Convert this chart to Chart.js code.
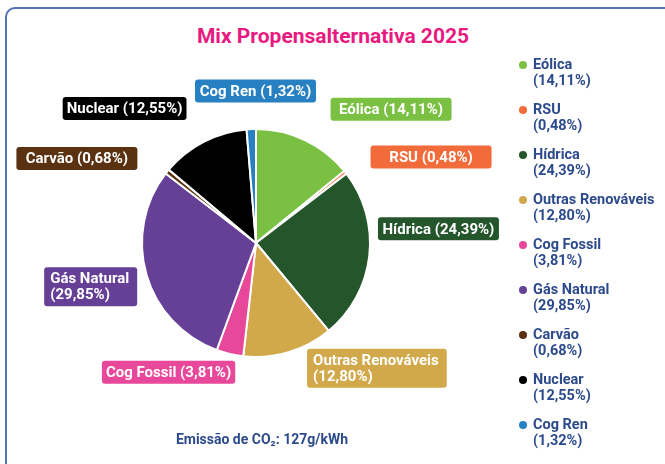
<!DOCTYPE html>
<html>
<head>
<meta charset="utf-8">
<script src="https://cdn.jsdelivr.net/npm/chart.js@4.4.1/dist/chart.umd.min.js"></script>
<style>
  body { margin: 0; background: #fff; font-family: Roboto, sans-serif; }
  #card { position: absolute; left: 5px; top: 7px; width: 700px; height: 500px;
          border: 2px solid #5571b0; border-radius: 10px; box-sizing: border-box; }
  #title { position: absolute; left: 5px; width: 656px; top: 24px; text-align: center;
           color: #e8197f; font-weight: 700; font-size: 21px; }
  #wrap { position: absolute; left: 0; top: 0; width: 665px; height: 464px; }
  #legend { position: absolute; left: 517px; top: 57px; margin: 0; padding: 0; list-style: none; }
  #legend li { height: 45px; position: relative; padding-left: 16px; color: #2c4a8c;
               font-weight: 700; font-size: 14.5px; line-height: 16px; white-space: nowrap; }
  #legend .dot { position: absolute; left: 2px; top: 4px; width: 8px; height: 8px; border-radius: 50%; }
  #co2 { position: absolute; left: 132px; width: 260px; top: 431px; text-align: center;
         color: #2c4a8c; font-weight: 700; font-size: 14px; }
</style>
</head>
<body>
<div id="card"></div>
<div id="title">Mix Propensalternativa 2025</div>
<div id="wrap"><canvas id="myChart"></canvas></div>
<ul id="legend"></ul>
<div id="co2">Emissão de CO₂: 127g/kWh</div>
<script>
var sources = ["Eólica", "RSU", "Hídrica", "Outras Renováveis", "Cog Fossil",
               "Gás Natural", "Carvão", "Nuclear", "Cog Ren"];
var shares = [14.11, 0.48, 24.39, 12.80, 3.81, 29.85, 0.68, 12.55, 1.32];
var colors = ["#7ac143", "#f26b3b", "#25562b", "#d1a84a", "#e8489a",
              "#663f97", "#5a3211", "#000000", "#2680c2"];

function pct(v) {
  return "(" + v.toFixed(2).replace(".", ",") + "%)";
}

// legend on the right
var legend = document.getElementById("legend");
for (var i = 0; i < sources.length; i++) {
  var li = document.createElement("li");
  li.innerHTML = '<span class="dot" style="background:' + colors[i] + '"></span>' +
    sources[i] + "<br>" + pct(shares[i]);
  legend.appendChild(li);
}

// coloured boxes around the pie
var boxLabels = {
  id: "boxLabels",
  afterDatasetsDraw(chart, args, opts) {
    var ctx = chart.ctx;
    var meta = chart.getDatasetMeta(0);
    ctx.save();
    ctx.font = "700 15px Roboto, sans-serif";
    meta.data.forEach((arc, i) => {
      var mid = (arc.startAngle + arc.endAngle) / 2;
      var p = opts.place[i];
      var a = mid + p[0] * Math.PI / 180;
      var cx = arc.x + Math.cos(a) * p[1];
      var cy = arc.y + Math.sin(a) * p[1];
      var lines = opts.twoLine[i]
        ? [sources[i], pct(shares[i])]
        : [sources[i] + " " + pct(shares[i])];
      var tw = Math.max.apply(null, lines.map((l) => ctx.measureText(l).width));
      var w, h;
      if (lines.length == 1) {
        w = Math.max(121, tw + 8);
        h = 23;
      } else {
        w = tw + 14;
        h = 39;
      }
      ctx.fillStyle = colors[i];
      ctx.beginPath();
      ctx.roundRect(cx - w / 2, cy - h / 2, w, h, 3);
      ctx.fill();
      ctx.fillStyle = "#fff";
      ctx.textBaseline = "middle";
      if (lines.length == 1) {
        ctx.textAlign = "center";
        ctx.fillText(lines[0], cx, cy + 1);
      } else {
        ctx.textAlign = "left";
        ctx.fillText(lines[0], cx - w / 2 + 6, cy - 8 + 1);
        ctx.fillText(lines[1], cx - w / 2 + 6, cy + 8 + 1);
      }
    });
    ctx.restore();
  },
};

var ctx = document.getElementById("myChart");
var myChart = new Chart(ctx, {
  type: "pie",
  data: {
    labels: sources,
    datasets: [
      {
        data: shares,
        backgroundColor: colors,
        borderColor: "#ffffff",
        borderWidth: 2,
        radius: 114,
      },
    ],
  },
  options: {
    responsive: true,
    maintainAspectRatio: false,
    animation: false,
    layout: { padding: { left: 0, right: 153, top: 22, bottom: 0 } },
    plugins: {
      legend: { display: false },
      tooltip: { enabled: false },
      boxLabels: {
        // [angle shift from slice middle (deg), distance from centre (px)]
        place: [[19.9, 190], [12.2, 195], [-10.9, 183], [-27.4, 174], [20.8, 156],
                [1.3, 171], [-13.6, 198], [-17, 188], [2.2, 152]],
        twoLine: [false, false, false, true, false, true, false, false, false],
      },
    },
  },
  plugins: [boxLabels],
});
</script>
</body>
</html>
